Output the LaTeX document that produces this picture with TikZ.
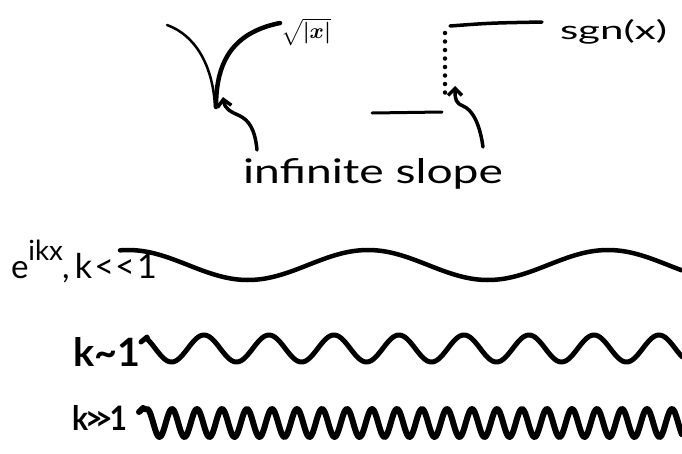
\documentclass[tikz,border=0pt]{standalone}
\usepackage{fontspec}
\setmainfont{Lato}[Ligatures=TeXOff]
\usetikzlibrary{arrows.meta}
\newcommand{\hw}[3]{\resizebox{#1}{#2}{#3}}
\newcommand{\fs}[1]{\fontsize{#1}{#1}\selectfont}
\begin{document}
\begin{tikzpicture}[x=1pt,y=-1pt,
  ink/.style={line cap=round,line join=round,draw=black},
  lbl/.style={inner sep=0pt,outer sep=0pt,anchor=base west},
  pointer/.style={ink,line width=3.5pt,-{Straight Barb[length=7pt,width=14pt]}}]
\useasboundingbox (0,0) rectangle (682,453);
\fill[white] (0,0) rectangle (682,453);
% sqrt|x| curve
\draw[ink,line width=2.5pt] (167,25) .. controls (195,35) and (213,65) .. (215,107);
\draw[ink,line width=4.5pt] (216,107) .. controls (216,65) and (230,33) .. (280,23);
\node[inner sep=0pt] (sq) at (306,32) {\resizebox*{50pt}{27pt}{\boldmath$\sqrt{|x|}$}};
% sgn(x)
\draw[ink,line width=3pt] (372,113) -- (442,112);
\draw[ink,line width=3.5pt] (450,26) .. controls (490,23) .. (542,22);
\draw[line width=4.5pt,line cap=round,dash pattern=on 0pt off 8.5pt] (445,33) -- (445,95);
\node[lbl] (sgn) at (560,39) {\hw{107pt}{20pt}{sgn(x)}};
% arrows
\coordinate (t1) at (257,150); \coordinate (h1) at (223,97);
\coordinate (t2) at (483,147); \coordinate (h2) at (455,86);
\draw[pointer] (t1) .. controls (255,128) and (248,120) .. (240,116) .. controls (232,112) and (225,110) .. (h1);
\draw[pointer] (t2) .. controls (480,125) and (473,110) .. (463,106) .. controls (456,103) and (455,100) .. (h2);
\node[lbl] (inf) at (243,183) {\hw{260pt}{25pt}{infinite slope}};
% waves
\draw[ink,line width=4.5pt] plot[domain=120:682,samples=200,smooth] (\x,{265-15*cos(1.5*(\x-368))});
\node[lbl] (eikx) at (11,278) {\hw{146pt}{!}{\fs{31}e\raisebox{16pt}{\fs{26}ikx}\kern-1pt,\kern5pt\fs{32}k\kern2pt<\kern1pt<\kern2pt1}};
\draw[ink,line width=5pt] (141,342) -- (147,337) -- plot[domain=148:682,samples=300,smooth] (\x,{348.5-13.5*cos(5.53846*(\x-204))});
\node[lbl,font=\bfseries] (ksim) at (73,366) {\hw{67pt}{29pt}{k\textasciitilde 1}};
\draw[ink,line width=6pt] (139,412) -- (143,408) -- plot[domain=146:682,samples=500,smooth] (\x,{423-14*cos(14.4*(\x-147))});
\node[lbl,font=\bfseries] (kgg) at (72,430) {\hw{55pt}{25pt}{k\kern-1pt>\kern-2.5pt>\kern-1pt1}};
\end{tikzpicture}
\end{document}
